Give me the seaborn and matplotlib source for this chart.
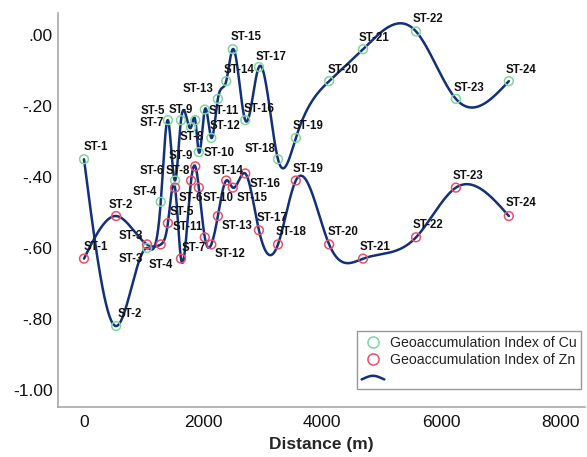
import numpy as np
import pandas as pd
import matplotlib
matplotlib.use("Agg")
import matplotlib.pyplot as plt
import seaborn as sns
from matplotlib.lines import Line2D
from matplotlib.legend_handler import HandlerBase

stations = ["ST-1", "ST-2", "ST-3", "ST-4", "ST-5", "ST-6", "ST-7", "ST-8",
            "ST-9", "ST-10", "ST-11", "ST-12", "ST-13", "ST-14", "ST-15", "ST-16",
            "ST-17", "ST-18", "ST-19", "ST-20", "ST-21", "ST-22", "ST-23", "ST-24"]
distance = [0, 540, 1060, 1290, 1410, 1530, 1630, 1800, 1870, 1930, 2030, 2140,
            2250, 2390, 2500, 2710, 2940, 3260, 3560, 4120, 4690, 5580, 6250, 7140]
igeo_cu = [-0.35, -0.82, -0.60, -0.47, -0.24, -0.41, -0.24, -0.26, -0.24, -0.33, -0.21, -0.29,
           -0.18, -0.13, -0.04, -0.24, -0.09, -0.35, -0.29, -0.13, -0.04, 0.01, -0.18, -0.13]
igeo_zn = [-0.63, -0.51, -0.59, -0.59, -0.53, -0.43, -0.63, -0.41, -0.37, -0.43, -0.57, -0.59,
           -0.51, -0.41, -0.43, -0.39, -0.55, -0.59, -0.41, -0.59, -0.63, -0.57, -0.43, -0.51]

# label offsets in pixels (dx, dy), dy positive = down
cu_offsets = [(0, -12), (1, -12), (-28, 11), (-28, -10), (-27, -9), (-35, -10), (-41, 3), (-11, 10),
              (-27, -10), (5, 1), (4, 1), (-2, -12), (-35, -10), (-3, -11), (-2, -12), (-2, -11),
              (-3, -10), (-33, -10), (-3, -12), (-2, -11), (-4, -11), (-3, -12), (-2, -11), (-3, -11)]
zn_offsets = [(0, -12), (-8, -11), (-28, -8), (-12, 21), (2, -11), (4, 10), (1, -11), (-25, -10),
              (-27, -10), (4, 10), (-32, -10), (3, 10), (4, 10), (-14, -10), (4, 10), (4, 11),
              (-2, -12), (-2, -12), (-3, -12), (-2, -12), (-3, -12), (-3, -12), (-3, -12), (-3, -13)]

green = "#7fd6a0"
red = "#e8506c"
navy = "#13307a"


def natural_spline(x, y, xs):
    x = np.asarray(x, float)
    y = np.asarray(y, float)
    n = len(x)
    h = np.diff(x)
    A = np.zeros((n, n))
    b = np.zeros(n)
    A[0, 0] = 1
    A[-1, -1] = 1
    for i in range(1, n - 1):
        A[i, i - 1] = h[i - 1]
        A[i, i] = 2 * (h[i - 1] + h[i])
        A[i, i + 1] = h[i]
        b[i] = 6 * ((y[i + 1] - y[i]) / h[i] - (y[i] - y[i - 1]) / h[i - 1])
    M = np.linalg.solve(A, b)
    idx = np.clip(np.searchsorted(x, xs) - 1, 0, n - 2)
    x0, x1 = x[idx], x[idx + 1]
    hh = x1 - x0
    t0 = x1 - xs
    t1 = xs - x0
    return (M[idx] * t0 ** 3 / (6 * hh) + M[idx + 1] * t1 ** 3 / (6 * hh)
            + (y[idx] / hh - M[idx] * hh / 6) * t0 + (y[idx + 1] / hh - M[idx + 1] * hh / 6) * t1)


class WavyHandler(HandlerBase):
    def create_artists(self, legend, orig_handle, xdescent, ydescent, width, height, fontsize, trans):
        t = np.linspace(0, 1, 40)
        xs = -xdescent + t * width
        ys = -ydescent + height * 0.35 + height * 0.25 * np.sin(np.pi * (1.3 * t - 0.15))
        line = Line2D(xs, ys, color=navy, lw=1.8)
        line.set_transform(trans)
        return [line]


df = pd.DataFrame({"Station": stations, "Distance": distance, "Cu": igeo_cu, "Zn": igeo_zn})
xs = np.linspace(min(distance), max(distance), 1500)
curves = pd.DataFrame({"Distance": xs,
                       "Cu": natural_spline(df["Distance"], df["Cu"], xs),
                       "Zn": natural_spline(df["Distance"], df["Zn"], xs)})

sns.set_style("white")
plt.rcParams["font.family"] = ["Liberation Sans", "DejaVu Sans"]

fig = plt.figure(figsize=(5.87, 4.57), dpi=100)
ax = fig.add_axes([0.0988, 0.1094, 0.8978, 0.8622])

sns.lineplot(data=curves, x="Distance", y="Cu", color=navy, lw=1.8, ax=ax, zorder=2)
sns.lineplot(data=curves, x="Distance", y="Zn", color=navy, lw=1.8, ax=ax, zorder=2)
sns.scatterplot(data=df, x="Distance", y="Cu", marker="o", s=40, facecolor="none",
                edgecolor=green, linewidth=1.1, ax=ax, zorder=3)
sns.scatterplot(data=df, x="Distance", y="Zn", marker="o", s=40, facecolor="none",
                edgecolor=red, linewidth=1.1, ax=ax, zorder=3)

for i, st in enumerate(stations):
    dx, dy = cu_offsets[i]
    ax.annotate(st, (distance[i], igeo_cu[i]), xytext=(dx, -dy), textcoords="offset pixels",
                ha="left", va="center", fontsize=8.3, fontweight="bold", color="#111111")
    dx, dy = zn_offsets[i]
    ax.annotate(st, (distance[i], igeo_zn[i]), xytext=(dx, -dy), textcoords="offset pixels",
                ha="left", va="center", fontsize=8.3, fontweight="bold", color="#111111")

ax.set_xlim(-437, 8420)
ax.set_ylim(-1.048, 0.062)
ax.set_xticks([0, 2000, 4000, 6000, 8000])
ax.set_yticks([0, -0.2, -0.4, -0.6, -0.8, -1.0])
ax.set_yticklabels([".00", "-.20", "-.40", "-.60", "-.80", "-1.00"])
ax.tick_params(length=0, labelsize=12.5, colors="#111111")
ax.tick_params(axis="x", pad=6)
ax.tick_params(axis="y", pad=4)
ax.set_xlabel("Distance (m)", fontsize=12.5, fontweight="bold", labelpad=5)
ax.set_ylabel("")
for side in ["top", "right"]:
    ax.spines[side].set_visible(False)
for side in ["left", "bottom"]:
    ax.spines[side].set_color("#a8a8a8")
    ax.spines[side].set_linewidth(1.2)

handles = [Line2D([], [], marker="o", ls="none", mfc="none", mec=green, ms=8, mew=1.1),
           Line2D([], [], marker="o", ls="none", mfc="none", mec=red, ms=8, mew=1.1),
           Line2D([], [], color=navy)]
labels = ["Geoaccumulation Index of Cu", "Geoaccumulation Index of Zn", ""]
leg = ax.legend(handles, labels, loc="lower right", bbox_to_anchor=(581 / 587, 1 - 389 / 457),
                bbox_transform=fig.transFigure, fontsize=10.2, frameon=True, fancybox=False,
                edgecolor="#7f7f7f", borderpad=0.3, labelspacing=0.25, handlelength=1.6,
                handletextpad=0.4, borderaxespad=0, handler_map={handles[2]: WavyHandler()})
leg.get_frame().set_linewidth(1.0)
for t in leg.get_texts():
    t.set_color("#222222")

fig.savefig("out.png", dpi=100)
